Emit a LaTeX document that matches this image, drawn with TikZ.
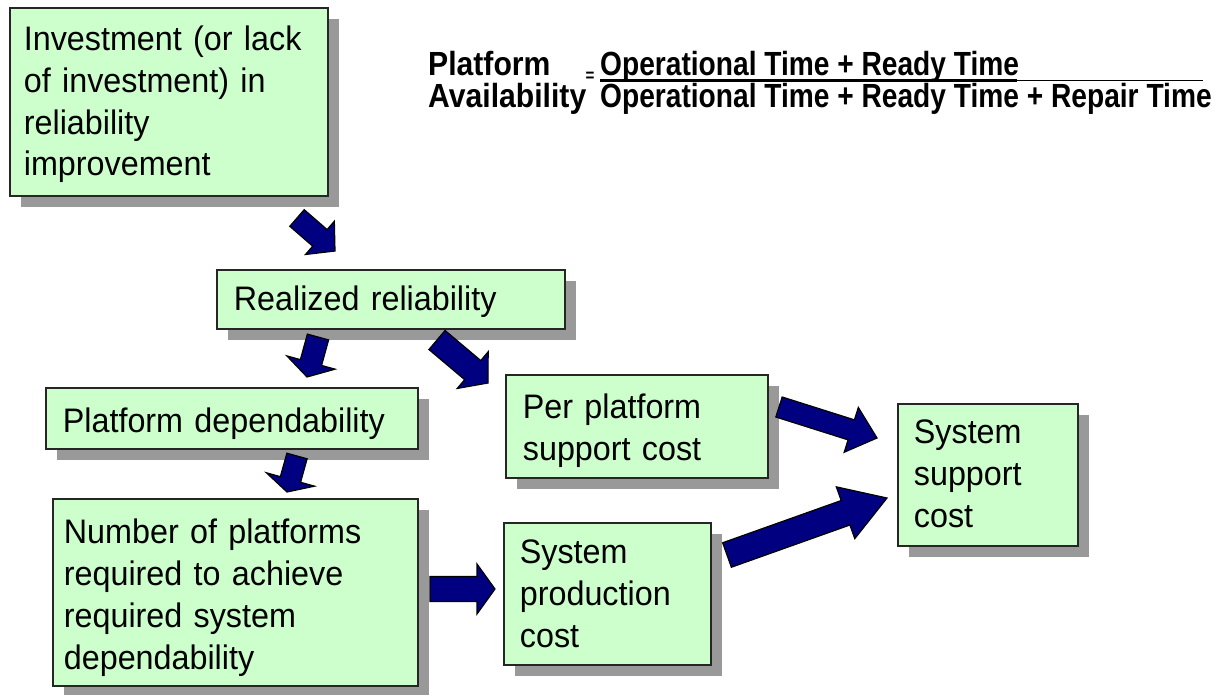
\documentclass[tikz,border=0pt]{standalone}
\usepackage{fontspec}
\setmainfont{Liberation Sans}[FakeStretch=0.95]
\newfontfamily\formfont{Liberation Sans}[FakeStretch=0.84]
\newfontfamily\labelfont{Liberation Sans}[FakeStretch=0.9]
\usetikzlibrary{calc,shadows}
\definecolor{boxgreen}{HTML}{CCFFCC}
\definecolor{navyblue}{HTML}{000080}
\tikzset{
  box/.style={draw=black!85, line width=1.8pt, fill=boxgreen, anchor=north west,
    inner ysep=0pt, align=left, font=\fontsize{34}{41.7}\selectfont,
    drop shadow={shadow xshift=11pt, shadow yshift=-11pt, fill=black!40, opacity=1}},
  barrow/.style={draw=black, line width=1.2pt, fill=navyblue, line join=miter},
  form/.style={font=\formfont\bfseries\fontsize{33.5}{40}\selectfont, inner sep=0pt, anchor=base west},
  flabel/.style={font=\labelfont\bfseries\fontsize{33.5}{40}\selectfont, inner sep=0pt, anchor=base west},
}
% tail, tip, half shaft width, half head width, head length
\newcommand\blockarrow[5]{%
  \draw[barrow]
    ($(#1)!#3!90:(#2)$) -- ($ ($(#2)!#5!(#1)$) !#3!90:(#2) $) -- ($ ($(#2)!#5!(#1)$) !#4!90:(#2) $)
    -- (#2) -- ($ ($(#2)!#5!(#1)$) !#4!-90:(#2) $) -- ($ ($(#2)!#5!(#1)$) !#3!-90:(#2) $)
    -- ($(#1)!#3!-90:(#2)$) -- cycle;}
\begin{document}
\begin{tikzpicture}[x=1pt,y=-1pt]
\useasboundingbox (0,0) rectangle (1216,695);
% formula
\node[flabel] (pl) at (428,76) {Platform};
\node[flabel] (av) at (428,108) {Availability};
\node[font=\formfont\bfseries\fontsize{18}{20}\selectfont, inner sep=0pt] (eq) at (590,77) {=};
\node[form] (nm) at (600,76) {Operational Time + Ready Time};
\node[form] (dn) at (600,108) {Operational Time + Ready Time + Repair Time};
\coordinate (fl1) at (600,80.5);
\coordinate (fl2) at (1203,80.5);
\coordinate (fl3) at (1017,80.5);
\draw[line width=1.6pt] (fl1) -- (fl2);
\draw[line width=3pt] (fl1) -- (fl3);
% boxes
\node[box, inner xsep=14pt, text width=290pt, text height=43pt, text depth=145pt] (inv) at (9,7)
  {Investment (or lack\\of investment) in\\reliability\\improvement};
\node[box, inner xsep=17pt, text width=314pt, text height=41pt, text depth=18pt] (real) at (216,269)
  {Realized reliability};
\node[box, inner xsep=17pt, text width=338pt, text height=45pt, text depth=16pt] (pdep) at (45,387)
  {Platform dependability};
\node[box, inner xsep=11pt, text width=343pt, text height=45pt, text depth=142pt] (num) at (52,498)
  {Number of platforms\\required to achieve\\required system\\dependability};
\node[box, inner xsep=17pt, text width=228pt, text height=44pt, text depth=59pt] (ppsc) at (505,374)
  {Per platform\\support cost};
\node[box, inner xsep=16pt, text width=175pt, text height=41pt, text depth=101pt] (spc) at (503,522)
  {System\\production\\cost};
\node[box, inner xsep=16pt, text width=148pt, text height=40pt, text depth=102pt] (ssc) at (897,403)
  {System\\support\\cost};
% arrows
\coordinate (a1) at (297,218); \coordinate (a2) at (335,251);
\coordinate (b1) at (318,337); \coordinate (b2) at (307,377);
\coordinate (c1) at (437,340); \coordinate (c2) at (488,383);
\coordinate (d1) at (297,456); \coordinate (d2) at (287,492);
\coordinate (e1) at (430,589); \coordinate (e2) at (495,589);
\coordinate (f1) at (779,407); \coordinate (f2) at (877,438);
\coordinate (g1) at (727,555); \coordinate (g2) at (887,498);
\blockarrow{a1}{a2}{11pt}{22pt}{20pt}
\blockarrow{b1}{b2}{11pt}{25pt}{15pt}
\blockarrow{c1}{c2}{12.5pt}{24pt}{20pt}
\blockarrow{d1}{d2}{10.5pt}{25pt}{13pt}
\blockarrow{e1}{e2}{12.5pt}{25pt}{18pt}
\blockarrow{f1}{f2}{10.5pt}{23.5pt}{27pt}
\blockarrow{g1}{g2}{13pt}{27.5pt}{44pt}
\end{tikzpicture}
\end{document}
